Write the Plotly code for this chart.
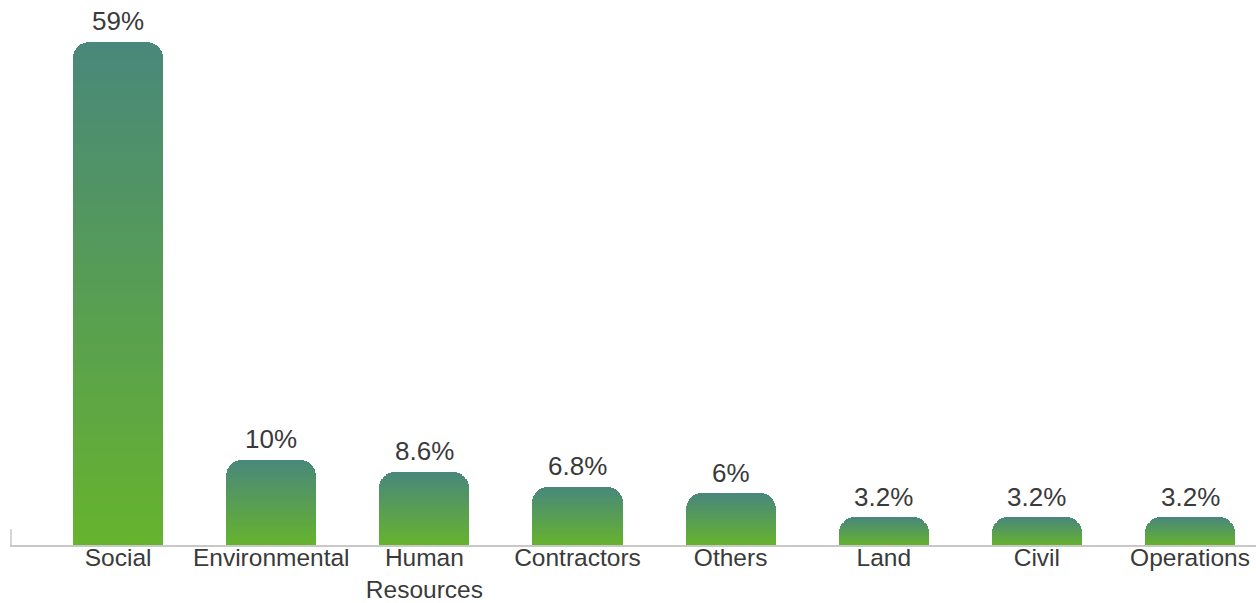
import plotly.graph_objects as go

categories = ["Social", "Environmental", "Human<br>Resources", "Contractors", "Others", "Land", "Civil", "Operations"]
values = [59, 10, 8.6, 6.8, 6, 3.2, 3.2, 3.2]
value_labels = ["59%", "10%", "8.6%", "6.8%", "6%", "3.2%", "3.2%", "3.2%"]

TOP = (0x49, 0x88, 0x7a)
BOTTOM = (0x66, 0xb3, 0x2e)
N = 50

def mix(t):
    r, g, b = (round(BOTTOM[i] + (TOP[i] - BOTTOM[i]) * t) for i in range(3))
    return f"rgb({r},{g},{b})"

fig = go.Figure()
xs = list(range(len(categories)))
for k in range(N):
    fig.add_trace(go.Bar(
        x=xs, y=[v / N for v in values],
        marker=dict(color=mix(k / (N - 1)), line=dict(width=0)),
        width=0.588, hoverinfo="skip", showlegend=False,
    ))

for x, v, t in zip(xs, values, value_labels):
    fig.add_annotation(x=x, y=v, text=t, showarrow=False, yanchor="bottom",
                       yshift=5, borderpad=0, font=dict(size=26, color="#3a3a3a"))

fig.update_layout(
    width=1256, height=603,
    margin=dict(l=10, r=0, t=8, b=58),
    barmode="stack", barcornerradius=16, bargap=0,
    plot_bgcolor="white", paper_bgcolor="white",
    font=dict(family="Liberation Sans, Arial, sans-serif", size=24, color="#3a3a3a"),
    xaxis=dict(tickmode="array", tickvals=xs, ticktext=categories,
               range=[-0.706, 7.431], showgrid=False, zeroline=False,
               showline=True, linecolor="#c8c8c8", linewidth=1.5, ticks="",
               automargin=False, ticklabelstandoff=-10,
               tickfont=dict(size=24.5, color="#3a3a3a")),
    yaxis=dict(range=[0, 62.99], visible=False, automargin=False),
    shapes=[dict(type="line", xref="paper", yref="paper", x0=0.0008, x1=0.0008,
                 y0=0, y1=0.03, line=dict(color="#c8c8c8", width=1.5))],
)

fig.write_html("out.html", config={"displayModeBar": False},
               post_script="document.body.style.margin='0';document.body.style.overflow='hidden';")
